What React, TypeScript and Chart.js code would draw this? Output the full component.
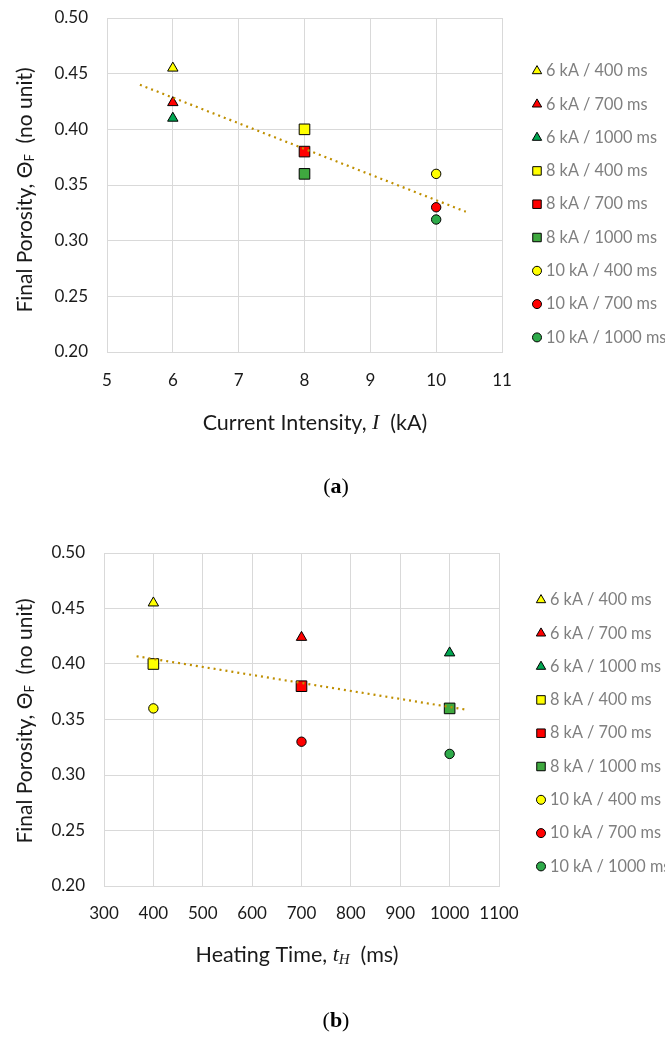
import React, { useEffect, useRef } from 'react';
import { Chart, registerables } from 'chart.js';
import { drawPoint } from 'chart.js/helpers';

Chart.register(...registerables);

// ---------- data ----------
const seriesLabels = [
  '6 kA / 400 ms', '6 kA / 700 ms', '6 kA / 1000 ms',
  '8 kA / 400 ms', '8 kA / 700 ms', '8 kA / 1000 ms',
  '10 kA / 400 ms', '10 kA / 700 ms', '10 kA / 1000 ms',
];
const currentKA = [6, 6, 6, 8, 8, 8, 10, 10, 10];
const heatingMs = [400, 700, 1000, 400, 700, 1000, 400, 700, 1000];
const porosity = [0.455, 0.424, 0.410, 0.400, 0.380, 0.360, 0.360, 0.330, 0.319];
const markerShapes = ['triangle', 'triangle', 'triangle', 'rect', 'rect', 'rect', 'circle', 'circle', 'circle'];
const markerColors = ['#FFFF00', '#FF0000', '#00A651', '#FFFF00', '#FF0000', '#3FA93F', '#FFFF00', '#FF0000', '#2EAA4A'];

// trendline endpoints
const trendCurrentX = [5.5, 10.45];
const trendCurrentY = [0.440, 0.326];
const trendTimeX = [366, 1032];
const trendTimeY = [0.407, 0.359];

const yTickMin = 0.2;
const yTickMax = 0.5;
const yTickStep = 0.05;

const FONT = 'Lato, "Open Sans", sans-serif';
const SERIF = '"Liberation Serif", "DejaVu Serif", serif';

const plotRadius: Record<string, number> = { triangle: 6, rect: 7.5, circle: 4.7 };
const legendRadius: Record<string, number> = { triangle: 5.4, rect: 6, circle: 4.5 };

type Run = { t: string; font: string; dy?: number };

function drawRuns(ctx: CanvasRenderingContext2D, runs: Run[], cx: number, cy: number, rotate: boolean, color: string) {
  ctx.save();
  ctx.translate(cx, cy);
  if (rotate) ctx.rotate(-Math.PI / 2);
  ctx.fillStyle = color;
  ctx.textBaseline = 'middle';
  ctx.textAlign = 'left';
  const widths = runs.map((r) => { ctx.font = r.font; return ctx.measureText(r.t).width; });
  const total = widths.reduce((a, b) => a + b, 0);
  let x = -total / 2;
  runs.forEach((r, i) => {
    ctx.font = r.font;
    ctx.fillText(r.t, x, r.dy || 0);
    x += widths[i];
  });
  ctx.restore();
}

type PanelProps = {
  height: number;
  xValues: number[];
  xMin: number; xMax: number; xStep: number;
  trendX: number[]; trendY: number[];
  area: { left: number; right: number; top: number; bottom: number };
  xTitle: Run[]; xTitlePos: [number, number];
  yTitlePos: [number, number];
  legendX: number; legendTextX: number; legendY0: number; legendDy: number;
  caption: Run[]; captionPos: [number, number];
  xTickPad: number;
};

function Panel(p: PanelProps) {
  const ref = useRef<HTMLCanvasElement | null>(null);
  useEffect(() => {
    const canvas = ref.current!;
    const W = 665;
    const datasets: any[] = [
      {
        type: 'line',
        label: 'trend',
        data: p.trendX.map((x, i) => ({ x, y: p.trendY[i] })),
        borderColor: '#BF8F00',
        borderWidth: 2.2,
        borderDash: [2, 4],
        pointRadius: 0,
        fill: false,
        order: 0,
      },
      ...seriesLabels.map((label, i) => ({
        type: 'scatter',
        label,
        data: [{ x: p.xValues[i], y: porosity[i] }],
        pointStyle: markerShapes[i],
        pointRadius: plotRadius[markerShapes[i]],
        pointBackgroundColor: markerColors[i],
        pointBorderColor: '#000000',
        pointBorderWidth: 1,
        order: 1,
      })),
    ];

    const overlay = {
      id: 'overlay',
      afterDraw(chart: any) {
        const ctx = chart.ctx as CanvasRenderingContext2D;
        drawRuns(ctx, p.xTitle, p.xTitlePos[0], p.xTitlePos[1], false, '#1a1a1a');
        drawRuns(ctx, [
          { t: 'Final Porosity, ', font: `21px ${FONT}` },
          { t: 'Θ', font: `21px ${FONT}` },
          { t: 'F', font: `13px ${FONT}`, dy: 5 },
          { t: '  (no unit)', font: `21px ${FONT}` },
        ], p.yTitlePos[0], p.yTitlePos[1], true, '#1a1a1a');
        seriesLabels.forEach((label, i) => {
          const y = p.legendY0 + i * p.legendDy;
          ctx.save();
          ctx.fillStyle = markerColors[i];
          ctx.strokeStyle = '#000000';
          ctx.lineWidth = 1;
          drawPoint(ctx, { pointStyle: markerShapes[i] as any, rotation: 0, radius: legendRadius[markerShapes[i]], borderWidth: 1 }, p.legendX, y);
          ctx.fillStyle = '#7F7F7F';
          ctx.font = `16.3px ${FONT}`;
          ctx.textBaseline = 'middle';
          ctx.textAlign = 'left';
          ctx.fillText(label, p.legendTextX, y);
          ctx.restore();
        });
        drawRuns(ctx, p.caption, p.captionPos[0], p.captionPos[1], false, '#000000');
      },
    };

    const chart = new Chart(canvas, {
      type: 'scatter',
      data: { datasets },
      options: {
        animation: false,
        responsive: false,
        maintainAspectRatio: false,
        devicePixelRatio: 1,
        layout: { padding: { left: 0, top: p.area.top, right: W - p.area.right, bottom: 0 } },
        plugins: { legend: { display: false }, tooltip: { enabled: false }, title: { display: false } },
        scales: {
          x: {
            type: 'linear',
            min: p.xMin, max: p.xMax,
            afterFit: (s: any) => { s.height = p.height - p.area.bottom; s.paddingLeft = 0; s.paddingRight = 0; },
            ticks: {
              stepSize: p.xStep,
              padding: p.xTickPad,
              color: '#1a1a1a',
              font: { family: FONT, size: 17 },
              callback: (v: any) => String(v),
              maxRotation: 0,
            },
            grid: { color: '#D9D9D9', lineWidth: 1, drawTicks: false },
            border: { display: true, color: '#D9D9D9' },
          },
          y: {
            type: 'linear',
            min: yTickMin, max: yTickMax,
            afterFit: (s: any) => { s.width = p.area.left; s.paddingTop = 0; s.paddingBottom = 0; },
            ticks: {
              stepSize: yTickStep,
              padding: 19,
              color: '#1a1a1a',
              font: { family: FONT, size: 17 },
              callback: (v: any) => Number(v).toFixed(2),
            },
            grid: { color: '#D9D9D9', lineWidth: 1, drawTicks: false },
            border: { display: true, color: '#D9D9D9' },
          },
        },
      } as any,
      plugins: [overlay],
    });
    return () => chart.destroy();
  }, []);
  return <canvas ref={ref} width={665} height={p.height} style={{ display: 'block', width: 665, height: p.height }} />;
}

export default function App() {
  return (
    <div style={{ position: 'absolute', left: 0, top: 0, width: 665, height: 1037, background: '#fff' }}>
      <Panel
        height={520}
        xValues={currentKA}
        xMin={5} xMax={11} xStep={1}
        trendX={trendCurrentX} trendY={trendCurrentY}
        area={{ left: 107, right: 502, top: 18, bottom: 352 }}
        xTitle={[
          { t: 'Current Intensity, ', font: `21.5px ${FONT}` },
          { t: 'I', font: `italic 22px ${SERIF}` },
          { t: '  (kA)', font: `21.5px ${FONT}` },
        ]}
        xTitlePos={[315, 423]}
        yTitlePos={[25, 190]}
        legendX={537} legendTextX={546} legendY0={71} legendDy={33.3}
        caption={[
          { t: '(', font: `22px ${SERIF}` },
          { t: 'a', font: `bold 22px ${SERIF}` },
          { t: ')', font: `22px ${SERIF}` },
        ]}
        captionPos={[336, 487]}
        xTickPad={18}
      />
      <Panel
        height={517}
        xValues={heatingMs}
        xMin={300} xMax={1100} xStep={100}
        trendX={trendTimeX} trendY={trendTimeY}
        area={{ left: 104, right: 499, top: 33, bottom: 366 }}
        xTitle={[
          { t: 'Heating Time, ', font: `21.5px ${FONT}` },
          { t: 't', font: `italic 22px ${SERIF}` },
          { t: 'H', font: `italic 15px ${SERIF}`, dy: 5 },
          { t: '  (ms)', font: `21.5px ${FONT}` },
        ]}
        xTitlePos={[297, 435]}
        yTitlePos={[25, 201]}
        legendX={541} legendTextX={550} legendY0={80} legendDy={33.3}
        caption={[
          { t: '(', font: `22px ${SERIF}` },
          { t: 'b', font: `bold 22px ${SERIF}` },
          { t: ')', font: `22px ${SERIF}` },
        ]}
        captionPos={[336, 501]}
        xTickPad={17}
      />
    </div>
  );
}
